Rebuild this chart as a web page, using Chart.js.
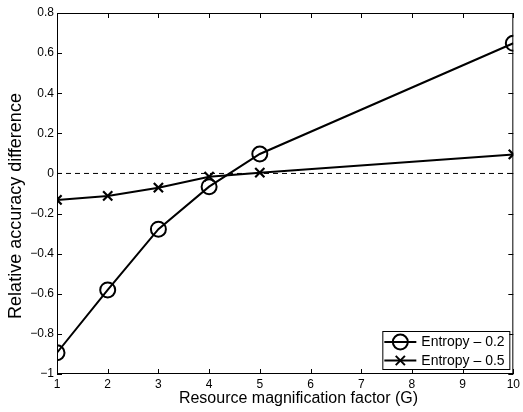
<!DOCTYPE html>
<html>
<head>
<meta charset="utf-8">
<script src="https://cdn.jsdelivr.net/npm/chart.js@4/dist/chart.umd.min.js"></script>
<style>
  html, body { margin: 0; padding: 0; background: #fff; }
  #wrap { width: 523px; height: 412px; position: relative; }
</style>
</head>
<body>
<div id="wrap"><canvas id="c" width="523" height="412"></canvas></div>
<script>
// ---- data ----
const xValues = [1, 2, 3, 4, 5, 10];
const entropy02 = [-0.894, -0.581, -0.278, -0.066, 0.097, 0.649];
const entropy05 = [-0.132, -0.112, -0.071, -0.016, 0.004, 0.095];
const zeroLineX = [1, 10];
const zeroLineY = [0, 0];
const seriesLabels = ['Entropy \u2013 0.2', 'Entropy \u2013 0.5'];
const xTicks = [1, 2, 3, 4, 5, 6, 7, 8, 9, 10];
const yTicks = [-1, -0.8, -0.6, -0.4, -0.2, 0, 0.2, 0.4, 0.6, 0.8];
const xTitle = 'Resource magnification factor (G)';
const yTitle = 'Relative accuracy difference';

const FONT = "'Liberation Sans', Arial, Helvetica, sans-serif";

function toXY(xs, ys) { return xs.map((x, i) => ({ x: x, y: ys[i] })); }

function fmtY(v) {
  const r = Math.round(v * 10) / 10;
  if (Math.abs(r) < 1e-9) return '0';
  let s = Math.abs(r).toString();
  return (r < 0 ? '\u2212' : '') + s;
}

// box, inward ticks and legend
const boxPlugin = {
  id: 'boxPlugin',
  afterDatasetsDraw(chart) {
    const { ctx, chartArea: a, scales } = chart;
    ctx.save();
    ctx.strokeStyle = '#000';
    ctx.lineWidth = 1;
    ctx.strokeRect(a.left + 0.5, a.top + 0.5, a.right - a.left - 1, a.bottom - a.top - 1);
    const tl = 5;
    ctx.beginPath();
    xTicks.forEach(v => {
      const px = Math.round(scales.x.getPixelForValue(v)) + 0.5;
      ctx.moveTo(px, a.bottom); ctx.lineTo(px, a.bottom - tl);
      ctx.moveTo(px, a.top); ctx.lineTo(px, a.top + tl);
    });
    yTicks.forEach(v => {
      const py = Math.round(scales.y.getPixelForValue(v)) + 0.5;
      ctx.moveTo(a.left, py); ctx.lineTo(a.left + tl, py);
      ctx.moveTo(a.right, py); ctx.lineTo(a.right - tl, py);
    });
    ctx.stroke();

    // legend
    const lw = 127, lh = 38;
    const lx = a.right - 4 - lw, ly = a.bottom - 5 - lh;
    ctx.fillStyle = '#fff';
    ctx.fillRect(lx, ly, lw, lh);
    ctx.strokeRect(lx + 0.5, ly + 0.5, lw, lh);
    ctx.font = '14px ' + FONT;
    ctx.textBaseline = 'middle';
    const styles = ['circle', 'crossRot'];
    seriesLabels.forEach((lab, i) => {
      const cy = ly + 11 + i * 18.5;
      ctx.lineWidth = 2;
      ctx.strokeStyle = '#000';
      ctx.beginPath();
      ctx.moveTo(lx + 2, cy); ctx.lineTo(lx + 34, cy);
      ctx.stroke();
      ctx.fillStyle = 'rgba(0,0,0,0)';
      Chart.helpers.drawPoint(ctx, { pointStyle: styles[i], radius: i === 0 ? 7.5 : 6.5, borderWidth: 2 }, lx + 18, cy);
      ctx.fillStyle = '#000';
      ctx.fillText(lab, lx + 39, cy + 0.5);
    });
    ctx.restore();
  }
};

new Chart(document.getElementById('c'), {
  type: 'line',
  data: {
    datasets: [
      {
        label: 'zero',
        data: toXY(zeroLineX, zeroLineY),
        borderColor: '#000',
        borderWidth: 1,
        borderDash: [5, 4],
        pointRadius: 0,
        fill: false
      },
      {
        label: seriesLabels[0],
        data: toXY(xValues, entropy02),
        borderColor: '#000',
        borderWidth: 2,
        pointStyle: 'circle',
        pointRadius: 7.5,
        pointBorderWidth: 2,
        pointBackgroundColor: 'rgba(0,0,0,0)',
        pointBorderColor: '#000',
        fill: false,
        tension: 0
      },
      {
        label: seriesLabels[1],
        data: toXY(xValues, entropy05),
        borderColor: '#000',
        borderWidth: 2,
        pointStyle: 'crossRot',
        pointRadius: 6.5,
        pointBorderWidth: 2.2,
        pointBorderColor: '#000',
        fill: false,
        tension: 0
      }
    ]
  },
  options: {
    responsive: false,
    animation: false,
    devicePixelRatio: 1,
    layout: { padding: { top: 13, right: 7, left: 0, bottom: 0 } },
    plugins: { legend: { display: false }, tooltip: { enabled: false } },
    scales: {
      x: {
        type: 'linear',
        min: 1, max: 10,
        afterBuildTicks(s) { s.ticks = xTicks.map(v => ({ value: v })); },
        afterFit(s) { s.height = 38; },
        grid: { display: false, drawTicks: false },
        border: { display: false },
        ticks: { color: '#000', font: { family: FONT, size: 12 }, padding: 3, maxRotation: 0, autoSkip: false },
        title: { display: true, text: '      ' + xTitle, color: '#000', font: { family: FONT, size: 16 }, padding: { top: 0, bottom: 4 } }
      },
      y: {
        type: 'linear',
        min: -1, max: 0.8,
        afterBuildTicks(s) { s.ticks = yTicks.map(v => ({ value: v })); },
        afterFit(s) { s.width = 57; },
        grid: { display: false, drawTicks: false },
        border: { display: false },
        ticks: { color: '#000', font: { family: FONT, size: 12 }, padding: 3, callback: v => fmtY(v), autoSkip: false },
        title: { display: true, text: yTitle + '     ', color: '#000', font: { family: FONT, size: 18 }, padding: { top: 5, bottom: 0 } }
      }
    }
  },
  plugins: [boxPlugin]
});
</script>
</body>
</html>
